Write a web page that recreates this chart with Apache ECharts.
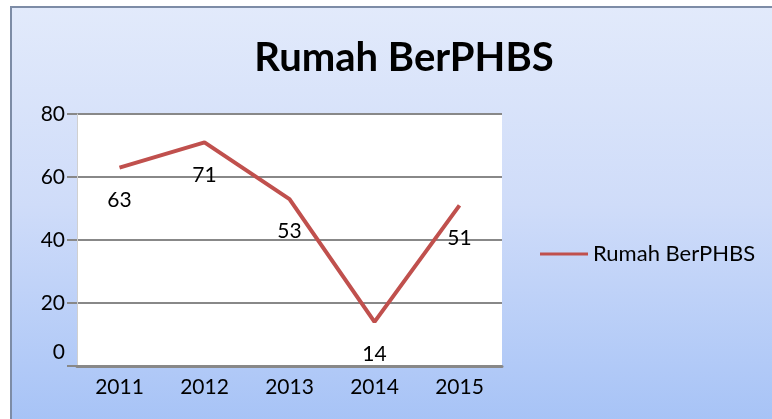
<!DOCTYPE html>
<html>
<head>
<meta charset="utf-8">
<script src="https://cdn.jsdelivr.net/npm/echarts@6/dist/echarts.min.js"></script>
<style>
html,body{margin:0;padding:0;background:#fff;}
#chart{width:772px;height:419px;}
</style>
</head>
<body>
<div id="chart"></div>
<script>
const titleText = 'Rumah BerPHBS';
const seriesName = 'Rumah BerPHBS';
const years = ['2011', '2012', '2013', '2014', '2015'];
const values = [63, 71, 53, 14, 51];
const yTicks = [0, 20, 40, 60, 80];

const chart = echarts.init(document.getElementById('chart'), null, {renderer: 'canvas'});
const fontFam = 'Lato, "Open Sans", sans-serif';
chart.setOption({
  backgroundColor: '#ffffff',
  animation: false,
  graphic: [{
    type: 'rect',
    z: -10,
    silent: true,
    shape: {x: 11, y: 7, width: 780, height: 440},
    style: {
      fill: new echarts.graphic.LinearGradient(0, 0, 0, 1, [
        {offset: 0, color: '#e2eafb'},
        {offset: 0.45, color: '#cfdcf9'},
        {offset: 1, color: '#a2c0f6'}
      ]),
      stroke: '#7d8ca6',
      lineWidth: 2
    }
  }],
  title: {
    text: titleText,
    left: 399,
    textAlign: 'center',
    top: 33,
    textStyle: {fontFamily: fontFam, fontWeight: 'bold', fontSize: 40, color: '#000'}
  },
  legend: {
    left: 540,
    top: 243,
    padding: 0,
    icon: 'rect',
    itemWidth: 48,
    itemHeight: 3,
    textStyle: {fontFamily: fontFam, fontSize: 22, color: '#000'},
    data: [seriesName]
  },
  grid: {
    left: 77, right: 270, top: 114, bottom: 53,
    show: true, backgroundColor: '#ffffff', borderWidth: 0
  },
  xAxis: {
    type: 'category',
    data: years,
    boundaryGap: true,
    axisLine: {lineStyle: {color: '#888', width: 3}},
    axisTick: {show: false},
    axisLabel: {fontFamily: fontFam, fontSize: 21, color: '#000', margin: 11}
  },
  yAxis: {
    type: 'value',
    min: yTicks[0],
    max: yTicks[yTicks.length - 1],
    interval: 20,
    axisLine: {show: true, lineStyle: {color: '#d0d0d0', width: 1}},
    axisTick: {show: true, length: 10, lineStyle: {color: '#888', width: 2}},
    splitLine: {lineStyle: {color: '#888', width: 2}},
    axisLabel: {
      fontFamily: fontFam, fontSize: 21, color: '#000', margin: 12,
      formatter: function (v) { return v === 0 ? '{z|0}' : String(v); },
      rich: {z: {fontFamily: fontFam, fontSize: 21, color: '#000', padding: [0, 0, 28, 0]}}
    }
  },
  series: [{
    name: seriesName,
    type: 'line',
    data: values,
    symbol: 'circle',
    symbolSize: 0.1,
    showSymbol: true,
    lineStyle: {color: '#c0504d', width: 4},
    itemStyle: {color: '#c0504d'},
    label: {
      show: true,
      position: 'bottom',
      distance: 22,
      fontFamily: fontFam,
      fontSize: 21,
      color: '#000'
    }
  }]
});
</script>
</body>
</html>
